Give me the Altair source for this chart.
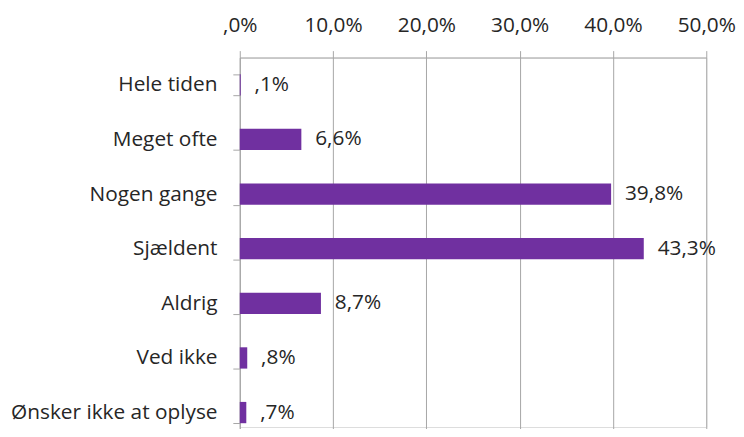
import altair as alt
import pandas as pd

categories = ["Hele tiden", "Meget ofte", "Nogen gange", "Sjældent", "Aldrig", "Ved ikke", "Ønsker ikke at oplyse"]
values = [0.1, 6.6, 39.8, 43.3, 8.7, 0.8, 0.7]
x_ticks = [0, 10, 20, 30, 40, 50]

df = pd.DataFrame({"cat": categories, "v": values})

FONT = "Open Sans"
FS = 21
TXT = "#262626"
GRID = "#A6A6A6"

label_expr = "(datum.value < 1 ? '' : floor(datum.value) + '') + ',' + round((datum.value % 1) * 10) + '%'"

y_enc = alt.Y(
    "cat:N",
    sort=categories,
    title=None,
    scale=alt.Scale(range=[0, 386], paddingInner=0.61, paddingOuter=0.305),
    axis=alt.Axis(
        orient="left",
        domain=True,
        domainColor=GRID,
        ticks=True,
        tickColor=GRID,
        tickSize=7,
        tickBand="extent",
        labelFont=FONT,
        labelFontSize=FS,
        labelColor=TXT,
        labelPadding=16,
        labelLimit=0,
        grid=False,
    ),
)

x_enc = alt.X(
    "v:Q",
    title=None,
    scale=alt.Scale(domain=[0, 50], nice=False),
    axis=alt.Axis(
        orient="top",
        values=x_ticks,
        labelExpr=label_expr,
        grid=True,
        gridColor=GRID,
        domain=True,
        domainColor=GRID,
        tickColor=GRID,
        tickSize=7,
        labelFont=FONT,
        labelFontSize=FS,
        labelColor=TXT,
        labelPadding=15,
        labelFlush=False,
        labelOverlap=False,
        labelBound=False,
    ),
)

bars = alt.Chart(df).mark_bar(color="#7030A0").encode(x=x_enc, y=y_enc)

labels = alt.Chart(df).transform_calculate(
    lab="(datum.v < 1 ? '' : floor(datum.v) + '') + ',' + round((datum.v % 1) * 10) + '%'"
).mark_text(align="left", baseline="middle", dx=14, font=FONT, fontSize=FS, color=TXT).encode(
    x=alt.X("v:Q"), y=alt.Y("cat:N", sort=categories), text="lab:N"
)

chart = alt.layer(bars, labels).properties(
    width=471,
    height=373,
    autosize=alt.AutoSizeParams(type="none"),
    padding={"left": 234, "top": 48, "right": 30, "bottom": 0},
).configure_view(stroke=None).configure(background="white")

chart.save("out.html", embed_options={"renderer": "svg", "actions": False})
